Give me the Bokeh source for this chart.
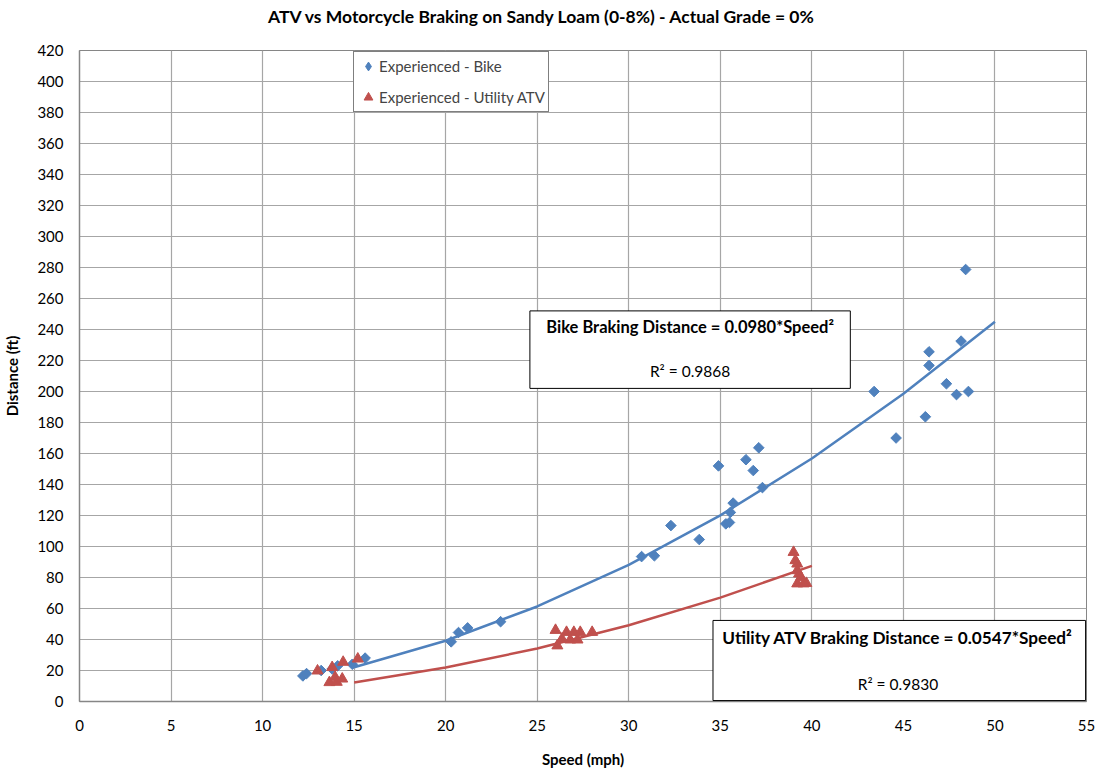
from bokeh.plotting import figure
from bokeh.models import Legend, LegendItem, BoxAnnotation, Label, FixedTicker, Div
from bokeh.layouts import column
from bokeh.embed import file_html
from bokeh.resources import INLINE

# ---- data ----
bike_speed = [12.2, 12.4, 13.2, 13.8, 14.1, 14.9, 15.6,
              20.3, 20.7, 21.2, 23.0,
              30.7, 31.4, 32.3, 33.85, 34.9, 35.3, 35.5, 35.55, 35.7, 36.4, 36.8, 37.1, 37.3,
              43.4, 44.6, 46.2, 46.4, 46.4, 47.35, 47.9, 48.15, 48.4, 48.55]
bike_dist = [16.5, 18, 20, 21, 23, 24, 28,
             38.5, 44.5, 47.5, 51.5,
             93.5, 94, 113.5, 104.5, 152, 114.6, 115.5, 122, 128, 156, 149, 163.7, 138,
             200, 170, 183.7, 225.6, 216.8, 205, 198, 232.5, 278.7, 200]

atv_speed = [13.0, 13.65, 13.8, 13.96, 14.05, 14.35, 14.4, 15.2,
             26.0, 26.1, 26.35, 26.6, 26.8, 27.0, 27.2, 27.35, 28.0,
             39.0, 39.1, 39.2, 39.2, 39.3, 39.2, 39.55, 39.7, 39.4]
atv_dist = [19.8, 12.3, 22, 15.7, 12.5, 14.6, 25.4, 27.5,
            46, 36, 40.4, 44.7, 39.8, 44.7, 39.8, 44.7, 44.7,
            96.3, 91, 88.8, 84.5, 82.4, 76, 76, 76.3, 80]

bike_fit_speed = [15, 20, 25, 30, 35, 40, 45, 50]
bike_fit_dist = [22.1, 39.2, 61.3, 88.2, 120.1, 156.8, 198.5, 245.0]
atv_fit_speed = [15, 20, 25, 30, 35, 40]
atv_fit_dist = [12.3, 21.9, 34.2, 49.2, 67.0, 87.5]

x_ticks = list(range(0, 56, 5))
y_ticks = list(range(0, 421, 20))

title_text = "ATV vs Motorcycle Braking on Sandy Loam (0-8%) - Actual Grade = 0%"

BLUE = "#4F81BD"
RED = "#C0504D"
FONT = "Lato"

title_div = Div(
    text=('<div style="font-family:Lato; font-weight:bold; font-size:17.5px; color:black; '
          'padding-left:268px; line-height:33px; white-space:nowrap;">' + title_text + '</div>'),
    width=1100, height=34, margin=0)

p = figure(width=1100, height=737, x_range=(0, 55), y_range=(0, 420),
           output_backend="svg", toolbar_location=None, margin=0,
           min_border_left=79, min_border_right=14, min_border_top=16, min_border_bottom=70)

p.background_fill_color = "white"
p.border_fill_color = "white"
p.outline_line_color = "#868686"

p.xaxis.ticker = FixedTicker(ticks=x_ticks)
p.yaxis.ticker = FixedTicker(ticks=y_ticks)
for ax in (p.xaxis, p.yaxis):
    ax.axis_line_color = "#868686"
    ax.axis_line_width = 1.5
    ax.major_tick_line_color = None
    ax.major_tick_out = 0
    ax.major_tick_in = 0
    ax.minor_tick_line_color = None
    ax.major_label_text_font = FONT
    ax.major_label_text_font_size = "15px"
    ax.major_label_text_color = "black"
    ax.axis_label_text_font = FONT
    ax.axis_label_text_font_size = "15px"
    ax.axis_label_text_font_style = "bold"
    ax.axis_label_text_color = "black"

p.xaxis.axis_label = "Speed (mph)"
p.yaxis.axis_label = "Distance (ft)"
p.xaxis.major_label_standoff = 18
p.xaxis.axis_label_standoff = 16
p.yaxis.major_label_standoff = 16
p.yaxis.axis_label_standoff = 13

p.xgrid.ticker = FixedTicker(ticks=x_ticks)
p.ygrid.ticker = FixedTicker(ticks=y_ticks)
p.xgrid.grid_line_color = "#a6a6a6"
p.ygrid.grid_line_color = "#a6a6a6"
p.xgrid.grid_line_width = 1.2
p.ygrid.grid_line_width = 1.2

r_bike = p.scatter(bike_speed, bike_dist, marker="square", angle=0.785398, size=7.5,
                   fill_color=BLUE, line_color=BLUE)
r_atv = p.scatter(atv_speed, atv_dist, marker="triangle", size=11,
                  fill_color=RED, line_color=RED)

p.line(bike_fit_speed, bike_fit_dist, line_color=BLUE, line_width=2.5)
p.line(atv_fit_speed, atv_fit_dist, line_color=RED, line_width=2.5)

# legend-only glyph (a single NaN point, never visible) so the legend key is a diamond
nan = float("nan")
r_bike_key = p.scatter([nan], [nan], marker="diamond", size=13, fill_color=BLUE, line_color=BLUE)

legend = Legend(items=[LegendItem(label="Experienced - Bike", renderers=[r_bike_key]),
                       LegendItem(label="Experienced - Utility ATV", renderers=[r_atv])],
                location=(274, 589))
legend.border_line_color = "black"
legend.border_line_width = 1
legend.background_fill_color = "white"
legend.background_fill_alpha = 1
legend.label_text_font = FONT
legend.label_text_font_size = "15px"
legend.glyph_width = 22
legend.glyph_height = 22
legend.label_height = 22
legend.label_standoff = 0
legend.spacing = 9
legend.padding = 3
legend.margin = 0
p.add_layout(legend)

# trendline equation boxes
p.add_layout(BoxAnnotation(left=24.6, right=42.1, bottom=202, top=252,
                           fill_color="white", fill_alpha=1,
                           line_color="black", line_width=1, line_alpha=1))
p.add_layout(BoxAnnotation(left=34.6, right=54.95, bottom=0.6, top=52.3,
                           fill_color="white", fill_alpha=1,
                           line_color="black", line_width=1, line_alpha=1))

def lab(x, y, text, bold, size):
    p.add_layout(Label(x=x, y=y, text=text, text_align="center", text_baseline="middle",
                       text_font=FONT, text_font_size=size,
                       text_font_style="bold" if bold else "normal", text_color="black"))

lab(33.35, 241.3, "Bike Braking Distance = 0.0980*Speed²", True, "16.5px")
lab(33.35, 213.5, "R² = 0.9868", False, "15.5px")
lab(44.7, 41.3, "Utility ATV Braking Distance = 0.0547*Speed²", True, "17.2px")
lab(44.7, 11.6, "R² = 0.9830", False, "15.5px")

layout = column(title_div, p, spacing=0, margin=0)

open("out.html", "w").write(file_html(layout, INLINE))
